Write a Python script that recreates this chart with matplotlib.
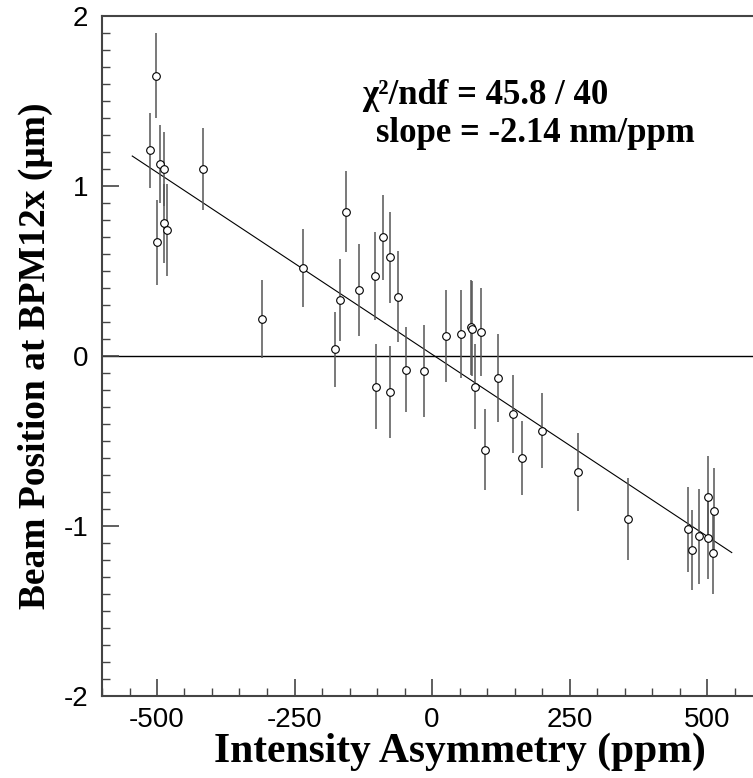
import matplotlib
matplotlib.use('Agg')
import matplotlib.pyplot as plt
from matplotlib.ticker import MultipleLocator

plt.rcParams['axes.unicode_minus'] = False

# intensity asymmetry (ppm), beam position (um), error (um)
asym = [-513, -502, -495, -487, -487, -482, -500, -416, -309, -235,
        -176, -167, -156, -133, -104, -102, -89, -76, -76, -62,
        -47, -15, 25, 53, 71, 73, 78, 89, 96, 120,
        148, 164, 200, 266, 356, 465, 473, 485, 502, 501,
        513, 511]
pos = [1.21, 1.65, 1.13, 1.10, 0.78, 0.74, 0.67, 1.10, 0.22, 0.52,
       0.04, 0.33, 0.85, 0.39, 0.47, -0.18, 0.70, 0.58, -0.21, 0.35,
       -0.08, -0.09, 0.12, 0.13, 0.17, 0.16, -0.18, 0.14, -0.55, -0.13,
       -0.34, -0.60, -0.44, -0.68, -0.96, -1.02, -1.14, -1.06, -0.83, -1.07,
       -0.91, -1.16]
err = [0.22, 0.25, 0.23, 0.22, 0.23, 0.27, 0.25, 0.24, 0.23, 0.23,
       0.22, 0.24, 0.24, 0.27, 0.26, 0.25, 0.25, 0.27, 0.27, 0.27,
       0.25, 0.27, 0.27, 0.26, 0.28, 0.28, 0.25, 0.26, 0.24, 0.26,
       0.23, 0.22, 0.22, 0.23, 0.24, 0.25, 0.235, 0.28, 0.24, 0.24,
       0.25, 0.24]

slope = -2.14e-3   # um/ppm
offset = 0.01
fit_range = [-545, 545]

W, H = 753, 778
fig = plt.figure(figsize=(W / 100, H / 100), dpi=100)
# axis frame runs to +600, past the right edge of the picture
ax = fig.add_axes([102 / W, (H - 696) / H, 660 / W, 680 / H])

ax.axhline(0, color='black', lw=1.0, zorder=1)
ax.plot(fit_range, [offset + slope * v for v in fit_range], color='black', lw=0.8, zorder=2)
ax.errorbar(asym, pos, yerr=err, fmt='o', ms=5.5, mfc='white', mec='black', mew=0.8,
            ecolor='#555555', elinewidth=1.1, capsize=0, zorder=3)

ax.set_xlim(-600, 600)
ax.set_ylim(-2, 2)
ax.xaxis.set_major_locator(MultipleLocator(250))
ax.xaxis.set_minor_locator(MultipleLocator(50))
ax.yaxis.set_major_locator(MultipleLocator(1))
ax.yaxis.set_minor_locator(MultipleLocator(0.1))
ax.tick_params(which='both', direction='in', top=False, right=False, color='#444444')
ax.tick_params(which='major', length=12, width=1.2, labelsize=20)
ax.tick_params(which='minor', length=6, width=1.0)
ax.tick_params(axis='x', pad=8)
ax.tick_params(axis='y', pad=10)
for lab in ax.get_xticklabels() + ax.get_yticklabels():
    lab.set_family('Liberation Sans')
for s in ax.spines.values():
    s.set_color('#444444')
    s.set_linewidth(1.5)

serif = dict(family='Liberation Serif', weight='bold')
ax.set_xlabel('Intensity Asymmetry (ppm)', fontsize=30, **serif)
ax.set_ylabel('Beam Position at BPM12x (μm)', fontsize=27, **serif)
ax.xaxis.set_label_coords((460 - 102) / 660, -(752 - 696) / 680)
ax.xaxis.label.set_verticalalignment('center')
ax.yaxis.set_label_coords(-(102 - 35) / 660, 0.5)
ax.yaxis.label.set_verticalalignment('center')

fig.text(362 / W, 1 - 96 / H, 'χ²/ndf = 45.8 / 40', fontsize=25, va='center', **serif)
fig.text(376 / W, 1 - 133 / H, 'slope = -2.14 nm/ppm', fontsize=25, va='center', **serif)

fig.savefig('out.png', dpi=100)
